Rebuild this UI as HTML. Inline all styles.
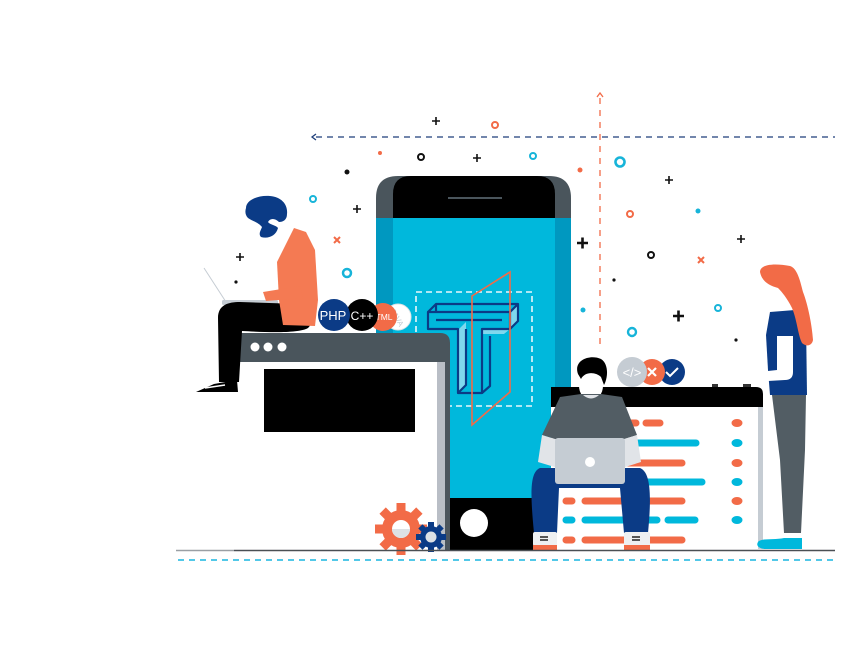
<!DOCTYPE html>
<html><head><meta charset="utf-8"><style>
html,body{margin:0;padding:0;background:#fff;}
svg{display:block;font-family:"Liberation Sans",sans-serif;}
</style></head><body>
<svg width="860" height="653" viewBox="0 0 860 653" xmlns="http://www.w3.org/2000/svg">
<rect width="860" height="653" fill="#fff"/>
<!-- dashed guide lines -->
<line x1="316" y1="137" x2="835" y2="137" stroke="#1f3f7a" stroke-width="1.3" stroke-dasharray="6,5"/>
<path d="M316,134 L312,137 L316,140" fill="none" stroke="#1f3f7a" stroke-width="1.3"/>
<line x1="600" y1="98" x2="600" y2="350" stroke="#f26b47" stroke-width="1.3" stroke-dasharray="6,6"/>
<path d="M597,97 L600,93 L603,97" fill="none" stroke="#f26b47" stroke-width="1.3"/>
<!-- confetti -->
<g stroke="#111" stroke-width="1.6" fill="none">
<path d="M432,121h8M436,117v8"/><path d="M473,158h8M477,154v8"/><path d="M665,180h8M669,176v8"/>
<path d="M353,209h8M357,205v8"/><path d="M737,239h8M741,235v8"/><path d="M236,257h8M240,253v8"/>
</g>
<g stroke="#111" stroke-width="2.6" fill="none">
<path d="M577,243h11M582.5,237.5v11"/><path d="M673,316h11M678.5,310.5v11"/>
</g>
<g stroke="#f26b47" stroke-width="2" fill="none">
<path d="M334,237l6,6M340,237l-6,6"/><path d="M698,257l6,6M704,257l-6,6"/>
</g>
<g fill="none" stroke-width="2">
<circle cx="495" cy="125" r="3" stroke="#f26b47"/><circle cx="630" cy="214" r="3" stroke="#f26b47"/>
<circle cx="421" cy="157" r="3" stroke="#111"/><circle cx="651" cy="255" r="3" stroke="#111"/>
<circle cx="533" cy="156" r="3" stroke="#17b4d9"/><circle cx="313" cy="199" r="3" stroke="#17b4d9"/>
<circle cx="718" cy="308" r="3" stroke="#17b4d9"/><circle cx="347" cy="273" r="4" stroke="#17b4d9" stroke-width="2.5"/>
<circle cx="620" cy="162" r="4.5" stroke="#17b4d9" stroke-width="2.6"/><circle cx="632" cy="332" r="4" stroke="#17b4d9" stroke-width="2.4"/>
</g>
<circle cx="380" cy="153" r="2" fill="#f26b47"/><circle cx="580" cy="170" r="2.5" fill="#f26b47"/>
<circle cx="347" cy="172" r="2.5" fill="#111"/><circle cx="614" cy="280" r="1.6" fill="#111"/>
<circle cx="236" cy="282" r="1.6" fill="#111"/><circle cx="736" cy="340" r="1.6" fill="#111"/>
<circle cx="698" cy="211" r="2.5" fill="#17b4d9"/><circle cx="583" cy="310" r="2.5" fill="#17b4d9"/>

<!-- phone -->
<path d="M376,198 Q376,176 398,176 L549,176 Q571,176 571,198 L571,218 L376,218 Z" fill="#4a555c"/>
<path d="M393,194 Q393,176 411,176 L537,176 Q555,176 555,194 L555,218 L393,218 Z" fill="#000"/>
<line x1="448" y1="198" x2="502" y2="198" stroke="#4a555c" stroke-width="2"/>
<rect x="376" y="218" width="195" height="280" fill="#0098c0"/>
<rect x="393" y="218" width="162" height="280" fill="#00b8dc"/>
<rect x="376" y="498" width="195" height="52" fill="#000"/>
<circle cx="474" cy="523" r="14" fill="#fff"/>
<!-- T logo -->
<rect x="416" y="292" width="116" height="114" fill="none" stroke="#e8f7fb" stroke-width="1.6" stroke-dasharray="6,4"/>
<path d="M458,330 L466,322 L466,385 L458,393 Z" fill="#7fd8ee"/>
<path d="M510,312 L518,304 L518,321 L510,329 Z" fill="#7fd8ee"/>
<path d="M482,329 L510,329 L504,334 L482,334 Z" fill="#7fd8ee"/>
<g fill="none" stroke="#0b3b86" stroke-width="2.2" stroke-linejoin="round">
<path d="M428,312 L510,312 L510,329 L482,329 L482,393 L458,393 L458,329 L428,329 Z"/>
<path d="M428,312 L436,304 L518,304 L510,312 M518,304 L518,321 L510,329 M482,393 L490,386 L490,336 M436,304 L436,312"/>
<path d="M436,320 L502,320 M466,329 L466,385 L458,393"/>
</g>
<path d="M472,296 L510,272 L510,392 L472,425 Z" fill="none" stroke="#f26b47" stroke-width="1.6"/>

<!-- left desk -->
<path d="M236,333 L440,333 Q450,333 450,343 L450,362 L236,362 Z" fill="#4a555c"/>
<rect x="236" y="362" width="201" height="188" fill="#fff"/>
<rect x="437" y="362" width="8" height="188" fill="#b9bec6"/>
<rect x="445" y="362" width="5" height="188" fill="#4b555d"/>
<circle cx="255" cy="347" r="4.5" fill="#fff"/><circle cx="268" cy="347" r="4.5" fill="#fff"/><circle cx="282" cy="347" r="4.5" fill="#fff"/>
<rect x="264" y="369" width="151" height="63" fill="#000"/>
<!-- gears -->
<g fill="#f26b47" transform="translate(401,529)">
<circle r="19"/>
<g><rect x="-4.5" y="-26" width="9" height="52"/><rect x="-4.5" y="-26" width="9" height="52" transform="rotate(45)"/><rect x="-4.5" y="-26" width="9" height="52" transform="rotate(90)"/><rect x="-4.5" y="-26" width="9" height="52" transform="rotate(135)"/></g>
<circle r="9" fill="#fff"/><path d="M-9,0 A9,9 0 0 0 9,0 Z" fill="#dde1e5"/>
</g>
<g fill="#0b3b86" transform="translate(431,537)">
<circle r="11"/>
<g><rect x="-3" y="-15" width="6" height="30"/><rect x="-3" y="-15" width="6" height="30" transform="rotate(45)"/><rect x="-3" y="-15" width="6" height="30" transform="rotate(90)"/><rect x="-3" y="-15" width="6" height="30" transform="rotate(135)"/></g>
<circle r="5.5" fill="#dde1e5"/>
</g>

<!-- left man -->
<line x1="204" y1="268" x2="226" y2="302" stroke="#c5ccd3" stroke-width="1"/>
<rect x="222" y="300" width="56" height="5" rx="1.5" fill="#c5ccd3"/>
<path d="M218,318 C218,305 228,302 240,302 L300,304 C314,306 316,320 308,328 C298,334 262,332 242,331 L239,382 L219,382 Z" fill="#000"/>
<path d="M196,392 L214,384 L237,380 L238,392 Z" fill="#000"/>
<path d="M205,388 L225,385" stroke="#fff" stroke-width="1.5"/>
<path d="M294,228 L306,232 L315,250 L318,300 L315,326 L283,325 L279,300 L277,262 Z" fill="#f47a53"/>
<path d="M263,292 L300,286 L303,298 L266,301 Z" fill="#f47a53"/>
<path d="M246,208 C246,200 258,195 270,196 C282,197 288,205 287,214 C287,220 283,222 279,222 C275,218 270,218 268,222 C270,225 276,225 278,228 C276,236 268,239 261,237 C258,234 261,230 262,227 C258,222 252,221 248,218 C245,215 245,211 246,208 Z" fill="#0b3b86"/>
<!-- language badges -->
<circle cx="398" cy="317" r="13" fill="#fff" stroke="#e0e3e6" stroke-width="1"/>
<text x="398" y="321" font-size="8" fill="#c5ccd3" text-anchor="middle" transform="rotate(60,398,317)">JAVA</text>
<circle cx="383" cy="317" r="14" fill="#f26b47"/>
<text x="384" y="320" font-size="8.5" fill="#fff" text-anchor="middle">TML</text>
<circle cx="362" cy="315" r="16" fill="#000"/>
<text x="362" y="320" font-size="12" fill="#fff" text-anchor="middle">C++</text>
<circle cx="334" cy="315" r="16" fill="#0b3b86"/>
<text x="333" y="320" font-size="13" fill="#fff" text-anchor="middle">PHP</text>

<!-- code panel -->
<path d="M551,387 L756,387 Q763,387 763,394 L763,407 L551,407 Z" fill="#000"/>
<rect x="551" y="407" width="207" height="143" fill="#fff"/>
<rect x="758" y="407" width="5" height="142" fill="#c5ccd3"/>
<rect x="712" y="384" width="6" height="3" fill="#333"/><rect x="743" y="384" width="8" height="3" fill="#333"/>
<g stroke-linecap="round" stroke-width="7">
<path d="M628,423h8M646,423h14" stroke="#f26b47"/>
<path d="M628,443h68" stroke="#00b8dc"/>
<path d="M628,463h54" stroke="#f26b47"/>
<path d="M628,482h74" stroke="#00b8dc"/>
<path d="M566,501h6M585,501h97" stroke="#f26b47"/>
<path d="M566,520h6M585,520h72M668,520h27" stroke="#00b8dc"/>
<path d="M566,540h6M585,540h97" stroke="#f26b47"/>
</g>
<g>
<ellipse cx="737" cy="423" rx="5.5" ry="4" fill="#f26b47"/><ellipse cx="737" cy="443" rx="5.5" ry="4" fill="#00b8dc"/>
<ellipse cx="737" cy="463" rx="5.5" ry="4" fill="#f26b47"/><ellipse cx="737" cy="482" rx="5.5" ry="4" fill="#00b8dc"/>
<ellipse cx="737" cy="501" rx="5.5" ry="4" fill="#f26b47"/><ellipse cx="737" cy="520" rx="5.5" ry="4" fill="#00b8dc"/>
</g>
<circle cx="672" cy="372" r="13" fill="#0b3b86"/>
<path d="M666,372 L670,376 L678,368" fill="none" stroke="#fff" stroke-width="2"/>
<circle cx="652" cy="372" r="13" fill="#f26b47"/>
<path d="M648,368 L656,376 M656,368 L648,376" stroke="#fff" stroke-width="2.2"/>
<circle cx="632" cy="372" r="15" fill="#c5ccd3"/>
<text x="632" y="377" font-size="13" fill="#fff" text-anchor="middle">&lt;/&gt;</text>

<!-- middle man -->
<ellipse cx="591" cy="386" rx="12" ry="14" fill="#fff"/>
<path d="M578,374 C573,360 590,354 601,359 C609,364 608,378 604,385 L601,377 C596,372 585,371 581,379 Z" fill="#000"/>
<path d="M560,397 L581,394 L601,394 L622,397 L637,435 L621,440 L619,446 L560,446 L558,440 L542,435 Z" fill="#525d64"/>
<path d="M583,395 Q591,402 599,395 Z" fill="#e1e4e8"/>
<path d="M542,435 L558,440 L558,468 L538,462 Z" fill="#e1e4e8"/>
<path d="M621,440 L637,435 L641,462 L622,468 Z" fill="#e1e4e8"/>
<path d="M540,468 C530,472 530,492 534,533 L557,533 L559,488 L620,488 L624,533 L648,533 C652,492 650,472 640,468 Z" fill="#0b3b86"/>
<rect x="555" y="438" width="70" height="46" rx="3" fill="#c5ccd3"/>
<circle cx="590" cy="462" r="5" fill="#fff"/>
<rect x="533" y="532" width="24" height="14" rx="2" fill="#eef0f2"/><rect x="533" y="545" width="24" height="5" fill="#f26b47"/>
<rect x="624" y="532" width="26" height="14" rx="2" fill="#eef0f2"/><rect x="624" y="545" width="26" height="5" fill="#f26b47"/>
<path d="M540,537h8M540,540h8M632,537h8M632,540h8" stroke="#222" stroke-width="1.5"/>

<!-- woman -->
<path d="M770,312 L795,310 L806,320 L807,395 L770,395 L768,370 L766,335 Z" fill="#0b3b86"/>
<path d="M777,336 L793,336 L793,372 Q793,380 785,380 L768,381 L768,371 L777,370 Z" fill="#fff"/>
<path d="M760,272 C760,264 775,263 790,266 C797,268 800,280 803,292 C808,305 812,325 813,340 C812,346 806,347 802,343 C798,335 797,320 792,308 C787,298 782,292 778,288 C770,286 762,282 760,272 Z" fill="#f26b47"/>
<path d="M772,395 L806,395 L805,450 L801,533 L784,533 L780,460 Z" fill="#525d64"/>
<path d="M758,542 C760,538 775,540 784,538 L802,538 L802,549 L764,549 C758,548 756,545 758,542 Z" fill="#00b8dc"/>

<!-- ground -->
<line x1="176" y1="550.5" x2="234" y2="550.5" stroke="#9a9fa4" stroke-width="1.5"/>
<line x1="234" y1="550.5" x2="835" y2="550.5" stroke="#4a4f54" stroke-width="1.5"/>
<line x1="178" y1="560" x2="835" y2="560" stroke="#18b6e0" stroke-width="1.4" stroke-dasharray="6,5"/>
</svg>
</body></html>
